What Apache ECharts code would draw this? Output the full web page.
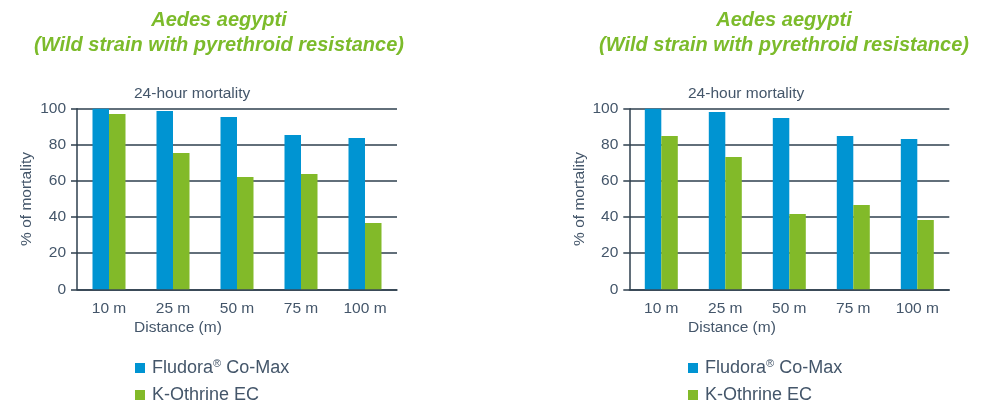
<!DOCTYPE html>
<html>
<head>
<meta charset="utf-8">
<script src="https://cdn.jsdelivr.net/npm/echarts@6/dist/echarts.min.js"></script>
<style>
    html, body { margin: 0; padding: 0; background: #fff; }
    #chart { width: 982px; height: 408px; }
</style>
</head>
<body>
<div id="chart"></div>
<script>
const distances = ['10 m', '25 m', '50 m', '75 m', '100 m']
const seriesNames = ['Fludora® Co-Max', 'K-Othrine EC']
// left panel
const fludoraLeft = [100, 98.7, 95.4, 85.4, 83.8]
const kothrineLeft = [97, 75.5, 62.2, 63.8, 36.7]
// right panel
const fludoraRight = [100, 98.2, 94.8, 84.9, 83.2]
const kothrineRight = [84.9, 73.2, 41.7, 46.7, 38.4]
const yTicks = [0, 20, 40, 60, 80, 100]

const titleText = 'Aedes aegypti\n(Wild strain with pyrethroid resistance)'
const blue = '#0094d2'
const green = '#82ba29'
const lineColor = '#2e3f4e'
const textColor = '#44566a'
const font = 'Liberation Sans'

const chart = echarts.init(document.getElementById('chart'))

const makeTitle = (x) => ({
    text: titleText,
    left: x,
    top: 8,
    padding: 0,
    textAlign: 'center',
    textStyle: {
        color: '#7cbb2b',
        fontFamily: font,
        fontSize: 20,
        fontWeight: 'bold',
        fontStyle: 'italic',
        lineHeight: 25
    }
})

const makeXAxis = (idx) => ({
    type: 'category',
    gridIndex: idx,
    data: distances,
    axisLine: { lineStyle: { color: lineColor, width: 1.5 } },
    axisTick: { length: 5, lineStyle: { color: lineColor, width: 1.5 } },
    axisLabel: { color: textColor, fontFamily: font, fontSize: 15.5, margin: 11 }
})

const makeYAxis = (idx) => ({
    type: 'value',
    gridIndex: idx,
    min: 0,
    max: 100,
    interval: 20,
    name: '% of mortality',
    nameLocation: 'middle',
    nameGap: 42,
    nameTextStyle: { color: textColor, fontFamily: font, fontSize: 15.5 },
    axisLine: { show: true, lineStyle: { color: lineColor, width: 1.5 } },
    axisTick: { show: true, length: 6, lineStyle: { color: lineColor, width: 1.5 } },
    axisLabel: {
        color: textColor,
        fontFamily: font,
        fontSize: 15.5,
        margin: 11,
        formatter: (v) => (yTicks.includes(v) ? String(v) : '')
    },
    splitLine: { lineStyle: { color: lineColor, width: 1.5 } }
})

const makeBar = (name, data, idx, color) => ({
    name,
    type: 'bar',
    xAxisIndex: idx,
    yAxisIndex: idx,
    data,
    barWidth: 16.5,
    barGap: '0%',
    itemStyle: { color }
})

// one legend per entry so each row sits where it should
const makeLegend = (name, x, y) => ({
    data: [name],
    left: x,
    top: y,
    padding: 0,
    itemWidth: 10,
    itemHeight: 10,
    icon: 'rect',
    selectedMode: false,
    formatter: (n) => n.replace('®', '{sup|®}'),
    textStyle: {
        color: textColor,
        fontFamily: font,
        fontSize: 18,
        padding: [0, 0, 0, 2],
        rich: {
            sup: { fontSize: 11, verticalAlign: 'top', color: textColor, fontFamily: font, padding: [0, 0, 9, 0] }
        }
    }
})

const makeText = (x, y, text) => ({
    type: 'text',
    left: x,
    top: y,
    style: { text, fill: textColor, font: '15.5px "Liberation Sans"' }
})

const options = {
    animation: false,
    title: [makeTitle(219), makeTitle(784)],
    grid: [
        { left: 77, right: 585, top: 108.7, bottom: 118.7 },
        { left: 629.3, right: 32.7, top: 108.7, bottom: 118.7 }
    ],
    xAxis: [makeXAxis(0), makeXAxis(1)],
    yAxis: [makeYAxis(0), makeYAxis(1)],
    legend: [
        makeLegend(seriesNames[0], 135, 358),
        makeLegend(seriesNames[1], 135, 386),
        makeLegend(seriesNames[0], 688, 358),
        makeLegend(seriesNames[1], 688, 386)
    ],
    graphic: [
        makeText(134, 86, '24-hour mortality'),
        makeText(688, 86, '24-hour mortality'),
        makeText(134, 320, 'Distance (m)'),
        makeText(688, 320, 'Distance (m)')
    ],
    series: [
        makeBar(seriesNames[0], fludoraLeft, 0, blue),
        makeBar(seriesNames[1], kothrineLeft, 0, green),
        makeBar(seriesNames[0], fludoraRight, 1, blue),
        makeBar(seriesNames[1], kothrineRight, 1, green)
    ]
}

chart.setOption(options)
</script>
</body>
</html>
